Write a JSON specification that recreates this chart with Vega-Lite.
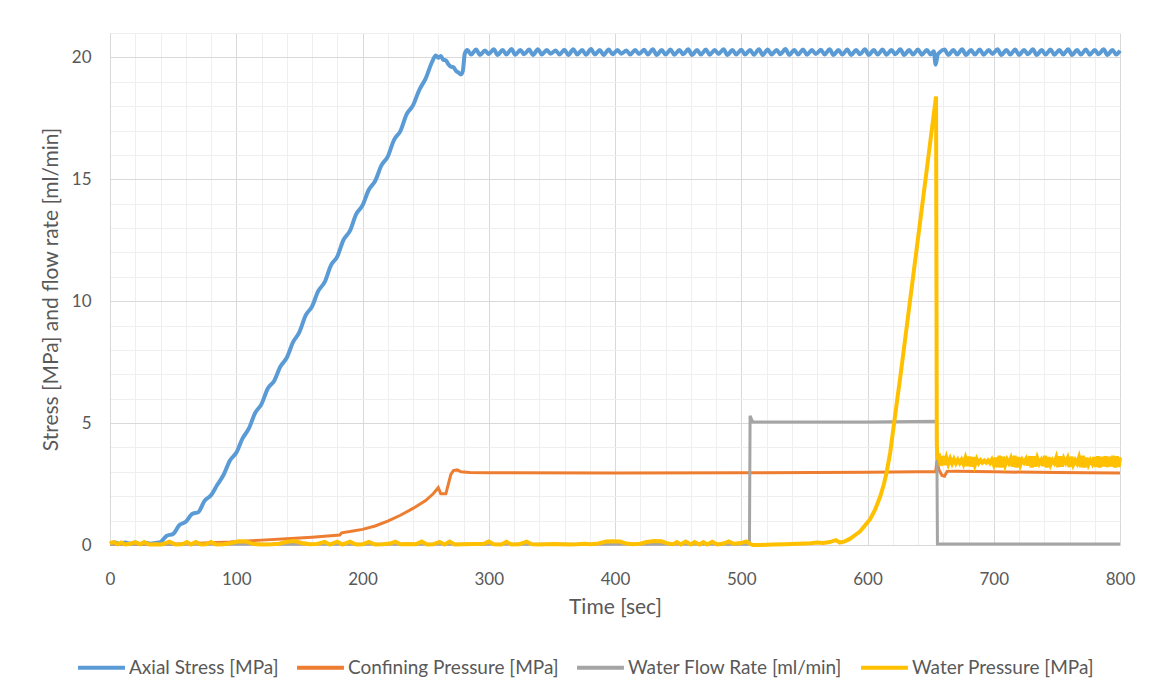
{
  "$schema": "https://vega.github.io/schema/vega-lite/v6.json",
  "width": 1010,
  "height": 512,
  "autosize": {"type": "none"},
  "padding": {"left": 110, "top": 33, "right": 34, "bottom": 153},
  "background": "white",
  "config": {
    "font": "Lato",
    "view": {"stroke": null},
    "axis": {
      "labelFont": "Lato",
      "labelFontSize": 17,
      "labelColor": "#595959",
      "titleFont": "Lato",
      "titleFontSize": 21,
      "titleFontWeight": "normal",
      "titleColor": "#595959",
      "ticks": false,
      "domainColor": "#d9d9d9",
      "domainWidth": 1,
      "labelFlush": false,
      "labelOverlap": false,
      "gridWidth": 1
    },
    "legend": {
      "labelFont": "Lato",
      "labelFontSize": 19,
      "labelColor": "#595959",
      "labelLimit": 300,
      "symbolType": "stroke",
      "symbolSize": 2200,
      "symbolStrokeWidth": 4,
      "labelOffset": 2,
      "columnPadding": 10
    }
  },
  "datasets": {
    "axial": [
      {"t":0,"v":0.05},{"t":4,"v":0.1},{"t":8,"v":0.04},{"t":12,"v":0.1},{"t":16,"v":0.05},{"t":20,"v":0.1},{"t":24,"v":0.04},{"t":28,"v":0.09},{"t":32,"v":0.05},{"t":36,"v":0.08},{"t":40,"v":0.12},
      {"t":45,"v":0.38},{"t":50,"v":0.45},{"t":55,"v":0.82},{"t":60,"v":0.95},{"t":65,"v":1.27},{"t":70,"v":1.35},{"t":75,"v":1.82},{"t":80,"v":2.04},{"t":85,"v":2.47},{"t":90,"v":2.88},{"t":95,"v":3.47},{"t":100,"v":3.78},{"t":105,"v":4.37},{"t":110,"v":4.78},{"t":115,"v":5.42},{"t":120,"v":5.78},{"t":125,"v":6.42},{"t":130,"v":6.73},{"t":135,"v":7.32},{"t":140,"v":7.68},{"t":145,"v":8.32},{"t":150,"v":8.73},{"t":155,"v":9.42},{"t":160,"v":9.78},{"t":165,"v":10.42},{"t":170,"v":10.78},{"t":175,"v":11.47},{"t":180,"v":11.83},{"t":185,"v":12.52},{"t":190,"v":12.88},{"t":195,"v":13.57},{"t":200,"v":13.93},{"t":205,"v":14.57},{"t":210,"v":14.93},{"t":215,"v":15.57},{"t":220,"v":15.93},{"t":225,"v":16.62},{"t":230,"v":16.98},{"t":235,"v":17.67},{"t":240,"v":18.03},{"t":245,"v":18.67},{"t":250,"v":19.13},{"t":255,"v":19.8},{"t":258,"v":20.08},{"t":260,"v":19.98},{"t":262,"v":20.06},{"t":264,"v":19.9},{"t":266,"v":19.88},{"t":268,"v":19.72},{"t":270,"v":19.62},{"t":272,"v":19.6},{"t":274,"v":19.45},{"t":276,"v":19.38},{"t":278,"v":19.3},{"t":279.5,"v":19.45},{"t":281,"v":20.15},
      {"t":283,"v":20.3},{"t":286,"v":20.12},{"t":290,"v":20.32},{"t":293,"v":20.1},{"t":297,"v":20.28},{"t":300,"v":20.14},{"t":304,"v":20.33},{"t":307,"v":20.1},{"t":311,"v":20.3},{"t":314,"v":20.12},{"t":318,"v":20.34},{"t":321,"v":20.11},{"t":325,"v":20.3},{"t":328,"v":20.13},{"t":332,"v":20.32},{"t":335,"v":20.1},{"t":339,"v":20.33},{"t":342,"v":20.12},{"t":346,"v":20.3},{"t":349,"v":20.15},{"t":353,"v":20.28},{"t":356,"v":20.12},{"t":360,"v":20.31},{"t":363,"v":20.1},{"t":367,"v":20.33},{"t":370,"v":20.12},{"t":374,"v":20.3},{"t":377,"v":20.11},{"t":381,"v":20.34},{"t":384,"v":20.12},{"t":388,"v":20.3},{"t":391,"v":20.1},{"t":395,"v":20.32},{"t":398,"v":20.13},{"t":402,"v":20.3},{"t":405,"v":20.15},{"t":409,"v":20.28},{"t":412,"v":20.12},{"t":416,"v":20.3},{"t":419,"v":20.14},{"t":423,"v":20.31},{"t":426,"v":20.12},{"t":430,"v":20.33},{"t":433,"v":20.1},{"t":437,"v":20.3},{"t":440,"v":20.12},{"t":444,"v":20.32},{"t":447,"v":20.11},{"t":451,"v":20.3},{"t":454,"v":20.13},{"t":458,"v":20.33},{"t":461,"v":20.1},{"t":465,"v":20.3},{"t":468,"v":20.12},{"t":472,"v":20.32},{"t":475,"v":20.11},{"t":479,"v":20.3},{"t":482,"v":20.14},{"t":486,"v":20.33},{"t":489,"v":20.1},{"t":493,"v":20.3},{"t":496,"v":20.12},{"t":500,"v":20.31},{"t":503,"v":20.12},{"t":507,"v":20.3},{"t":510,"v":20.11},{"t":514,"v":20.33},{"t":517,"v":20.1},{"t":521,"v":20.32},{"t":524,"v":20.12},{"t":528,"v":20.3},{"t":531,"v":20.13},{"t":535,"v":20.34},{"t":538,"v":20.1},{"t":542,"v":20.3},{"t":545,"v":20.12},{"t":549,"v":20.32},{"t":552,"v":20.11},{"t":556,"v":20.3},{"t":559,"v":20.14},{"t":563,"v":20.31},{"t":566,"v":20.12},{"t":570,"v":20.33},{"t":573,"v":20.1},{"t":577,"v":20.3},{"t":580,"v":20.12},{"t":584,"v":20.32},{"t":587,"v":20.1},{"t":591,"v":20.3},{"t":594,"v":20.13},{"t":598,"v":20.33},{"t":601,"v":20.1},{"t":605,"v":20.3},{"t":608,"v":20.12},{"t":612,"v":20.32},{"t":615,"v":20.11},{"t":619,"v":20.3},{"t":622,"v":20.13},{"t":626,"v":20.33},{"t":629,"v":20.1},{"t":633,"v":20.3},{"t":636,"v":20.12},{"t":640,"v":20.32},{"t":643,"v":20.11},{"t":647,"v":20.3},{"t":650,"v":20.12},{"t":652.5,"v":20.25},{"t":654,"v":19.7},{"t":655.5,"v":20.1},{"t":657,"v":20.2},{"t":661,"v":20.32},{"t":664,"v":20.1},{"t":668,"v":20.3},{"t":671,"v":20.12},{"t":675,"v":20.33},{"t":678,"v":20.1},{"t":682,"v":20.3},{"t":685,"v":20.12},{"t":689,"v":20.32},{"t":692,"v":20.11},{"t":696,"v":20.3},{"t":699,"v":20.14},{"t":703,"v":20.33},{"t":706,"v":20.1},{"t":710,"v":20.3},{"t":713,"v":20.12},{"t":717,"v":20.32},{"t":720,"v":20.1},{"t":724,"v":20.3},{"t":727,"v":20.13},{"t":731,"v":20.33},{"t":734,"v":20.1},{"t":738,"v":20.3},{"t":741,"v":20.12},{"t":745,"v":20.32},{"t":748,"v":20.11},{"t":752,"v":20.3},{"t":755,"v":20.12},{"t":759,"v":20.33},{"t":762,"v":20.1},{"t":766,"v":20.3},{"t":769,"v":20.12},{"t":773,"v":20.32},{"t":776,"v":20.11},{"t":780,"v":20.3},{"t":783,"v":20.13},{"t":787,"v":20.33},{"t":790,"v":20.1},{"t":794,"v":20.3},{"t":797,"v":20.12},{"t":800,"v":20.28}
    ],
    "confining": [
      {"t":0,"v":0.02},{"t":50,"v":0.03},{"t":95,"v":0.12},{"t":120,"v":0.2},{"t":140,"v":0.26},{"t":160,"v":0.32},{"t":182,"v":0.41},{"t":183.5,"v":0.5},{"t":190,"v":0.55},{"t":200,"v":0.64},{"t":210,"v":0.78},{"t":220,"v":0.98},{"t":230,"v":1.22},{"t":240,"v":1.5},{"t":250,"v":1.82},{"t":256,"v":2.1},{"t":260,"v":2.35},{"t":262,"v":2.1},{"t":266,"v":2.1},{"t":268,"v":2.5},{"t":270,"v":2.9},{"t":272,"v":3.05},{"t":275,"v":3.08},{"t":278,"v":3.0},{"t":285,"v":2.97},{"t":300,"v":2.96},{"t":400,"v":2.95},{"t":500,"v":2.96},{"t":600,"v":2.98},{"t":640,"v":3.0},{"t":654,"v":3.0},{"t":655,"v":3.45},{"t":656.5,"v":3.1},{"t":659,"v":2.85},{"t":661,"v":2.82},{"t":663,"v":3.02},{"t":670,"v":3.03},{"t":700,"v":3.0},{"t":750,"v":2.97},{"t":800,"v":2.95}
    ],
    "flow": [
      {"t":0,"v":0.03},{"t":506.5,"v":0.03},{"t":507,"v":5.3},{"t":509,"v":5.05},{"t":560,"v":5.05},{"t":600,"v":5.05},{"t":654.8,"v":5.08},{"t":655.4,"v":0.04},{"t":800,"v":0.04}
    ],
    "water": [
      {"t":0,"v":0.08},{"t":3,"v":0.12},{"t":6,"v":0.03},{"t":9,"v":0.1},{"t":12,"v":0.02},{"t":16,"v":0.05},{"t":20,"v":0.12},{"t":24,"v":0.03},{"t":27,"v":0.12},{"t":31,"v":0.02},{"t":36,"v":0.03},{"t":41,"v":0.02},{"t":47,"v":0.14},{"t":52,"v":0.02},{"t":57,"v":0.03},{"t":61,"v":0.12},{"t":64,"v":0.02},{"t":68,"v":0.12},{"t":72,"v":0.02},{"t":76,"v":0.03},{"t":80,"v":0.12},{"t":84,"v":0.02},{"t":90,"v":0.03},{"t":96,"v":0.08},{"t":102,"v":0.15},{"t":108,"v":0.14},{"t":113,"v":0.05},{"t":120,"v":0.02},{"t":128,"v":0.03},{"t":134,"v":0.05},{"t":140,"v":0.13},{"t":146,"v":0.16},{"t":152,"v":0.08},{"t":158,"v":0.03},{"t":164,"v":0.04},{"t":170,"v":0.13},{"t":174,"v":0.02},{"t":180,"v":0.14},{"t":184,"v":0.02},{"t":190,"v":0.14},{"t":195,"v":0.02},{"t":200,"v":0.03},{"t":205,"v":0.13},{"t":210,"v":0.02},{"t":216,"v":0.03},{"t":222,"v":0.06},{"t":226,"v":0.14},{"t":230,"v":0.03},{"t":236,"v":0.04},{"t":242,"v":0.03},{"t":247,"v":0.14},{"t":251,"v":0.02},{"t":256,"v":0.03},{"t":261,"v":0.13},{"t":265,"v":0.02},{"t":269,"v":0.14},{"t":273,"v":0.02},{"t":280,"v":0.03},{"t":288,"v":0.04},{"t":296,"v":0.05},{"t":300,"v":0.14},{"t":304,"v":0.03},{"t":310,"v":0.02},{"t":314,"v":0.13},{"t":318,"v":0.02},{"t":324,"v":0.03},{"t":330,"v":0.14},{"t":334,"v":0.03},{"t":340,"v":0.02},{"t":346,"v":0.03},{"t":352,"v":0.04},{"t":358,"v":0.03},{"t":364,"v":0.02},{"t":370,"v":0.03},{"t":376,"v":0.05},{"t":381,"v":0.03},{"t":387,"v":0.06},{"t":393,"v":0.14},{"t":398,"v":0.15},{"t":404,"v":0.14},{"t":409,"v":0.06},{"t":414,"v":0.03},{"t":420,"v":0.05},{"t":425,"v":0.12},{"t":431,"v":0.16},{"t":437,"v":0.15},{"t":442,"v":0.06},{"t":446,"v":0.03},{"t":449,"v":0.12},{"t":452,"v":0.02},{"t":456,"v":0.14},{"t":460,"v":0.02},{"t":463,"v":0.12},{"t":467,"v":0.02},{"t":470,"v":0.12},{"t":473,"v":0.02},{"t":477,"v":0.13},{"t":481,"v":0.02},{"t":486,"v":0.06},{"t":490,"v":0.15},{"t":494,"v":0.05},{"t":500,"v":0.08},{"t":504,"v":0.15},{"t":507,"v":0.05},{"t":509,"v":0.0},{"t":515,"v":0.0},{"t":525,"v":0.02},{"t":535,"v":0.03},{"t":545,"v":0.05},{"t":555,"v":0.07},{"t":560,"v":0.1},{"t":565,"v":0.08},{"t":570,"v":0.12},{"t":575,"v":0.2},{"t":578,"v":0.1},{"t":582,"v":0.15},{"t":586,"v":0.25},{"t":590,"v":0.4},{"t":594,"v":0.55},{"t":598,"v":0.8},{"t":602,"v":1.05},{"t":606,"v":1.45},{"t":610,"v":1.98},{"t":613,"v":2.5},{"t":615,"v":2.94},{"t":618,"v":3.8},{"t":620,"v":4.58},{"t":623,"v":5.75},{"t":626,"v":6.9},{"t":630,"v":8.52},{"t":635,"v":10.55},{"t":640,"v":12.58},{"t":645,"v":14.6},{"t":650,"v":16.65},{"t":654.3,"v":18.4},{"t":654.9,"v":4.1},{"t":655.5,"v":3.5},
      {"t":656.5,"v":3.75},{"t":658,"v":3.25},{"t":659.5,"v":3.65},{"t":661,"v":3.28},{"t":662.5,"v":3.58},{"t":664,"v":3.32},{"t":665.5,"v":3.54},{"t":667,"v":3.34},{"t":668.5,"v":3.52},{"t":670,"v":3.35},{"t":671.5,"v":3.5},{"t":673,"v":3.36},{"t":674.5,"v":3.5},{"t":676,"v":3.32},{"t":677.5,"v":3.56},{"t":679,"v":3.24},{"t":680.5,"v":3.62},{"t":682,"v":3.22},{"t":683.5,"v":3.6},{"t":685,"v":3.28},{"t":686.5,"v":3.52},{"t":688,"v":3.36},{"t":689.5,"v":3.48},{"t":691,"v":3.38},{"t":692.5,"v":3.46},{"t":694,"v":3.38},{"t":695.5,"v":3.47},{"t":697,"v":3.36},{"t":698.5,"v":3.5},{"t":700,"v":3.3},{"t":701.5,"v":3.58},{"t":703,"v":3.2},{"t":704.5,"v":3.66},{"t":706,"v":3.18},{"t":707.5,"v":3.62},{"t":709,"v":3.28},{"t":710.5,"v":3.5},{"t":712,"v":3.36},{"t":713.5,"v":3.55},{"t":715,"v":3.22},{"t":716.5,"v":3.66},{"t":718,"v":3.18},{"t":719.5,"v":3.6},{"t":721,"v":3.28},{"t":722.5,"v":3.5},{"t":724,"v":3.38},{"t":725.5,"v":3.52},{"t":727,"v":3.26},{"t":728.5,"v":3.64},{"t":730,"v":3.18},{"t":731.5,"v":3.64},{"t":733,"v":3.22},{"t":734.5,"v":3.56},{"t":736,"v":3.34},{"t":737.5,"v":3.48},{"t":739,"v":3.24},{"t":740.5,"v":3.66},{"t":742,"v":3.18},{"t":743.5,"v":3.6},{"t":745,"v":3.3},{"t":746.5,"v":3.48},{"t":748,"v":3.36},{"t":749.5,"v":3.58},{"t":751,"v":3.2},{"t":752.5,"v":3.64},{"t":754,"v":3.22},{"t":755.5,"v":3.54},{"t":757,"v":3.38},{"t":758.5,"v":3.56},{"t":760,"v":3.2},{"t":761.5,"v":3.62},{"t":763,"v":3.3},{"t":764.5,"v":3.48},{"t":766,"v":3.34},{"t":767.5,"v":3.58},{"t":769,"v":3.2},{"t":770.5,"v":3.66},{"t":772,"v":3.18},{"t":773.5,"v":3.58},{"t":775,"v":3.3},{"t":776.5,"v":3.48},{"t":778,"v":3.34},{"t":779.5,"v":3.6},{"t":781,"v":3.2},{"t":782.5,"v":3.64},{"t":784,"v":3.18},{"t":785.5,"v":3.62},{"t":787,"v":3.22},{"t":788.5,"v":3.64},{"t":790,"v":3.2},{"t":791.5,"v":3.62},{"t":793,"v":3.22},{"t":794.5,"v":3.66},{"t":796,"v":3.18},{"t":797.5,"v":3.64},{"t":799,"v":3.2},{"t":800,"v":3.6}
    ]
  },
  "encoding": {
    "x": {
      "field": "t",
      "type": "quantitative",
      "scale": {"domain": [0, 800], "nice": false, "zero": false},
      "axis": {
        "title": "Time [sec]",
        "values": [0,20,40,60,80,100,120,140,160,180,200,220,240,260,280,300,320,340,360,380,400,420,440,460,480,500,520,540,560,580,600,620,640,660,680,700,720,740,760,780,800],
        "labelExpr": "datum.value % 100 === 0 ? datum.label : ''",
        "gridColor": {"condition": {"test": "datum.value % 100 === 0", "value": "#d9d9d9"}, "value": "#efefef"},
        "labelPadding": 26,
        "titlePadding": 9
      }
    },
    "y": {
      "field": "v",
      "type": "quantitative",
      "scale": {"domain": [0, 21], "nice": false},
      "axis": {
        "title": "Stress [MPa] and flow rate [ml/min]",
        "values": [0,1,2,3,4,5,6,7,8,9,10,11,12,13,14,15,16,17,18,19,20,21],
        "labelExpr": "datum.value % 5 === 0 ? datum.label : ''",
        "gridColor": {"condition": {"test": "datum.value % 5 === 0", "value": "#d9d9d9"}, "value": "#efefef"},
        "labelPadding": 19,
        "titlePadding": 10
      }
    }
  },
  "layer": [
    {
      "data": {"name": "axial"},
      "mark": {"type": "line", "strokeWidth": 4, "interpolate": "monotone"},
      "encoding": {
        "color": {
          "datum": "Axial Stress [MPa]",
          "type": "nominal",
          "scale": {"domain": ["Axial Stress [MPa]", "Confining Pressure [MPa]", "Water Flow Rate [ml/min]", "Water Pressure [MPa]"], "range": ["#5B9BD5", "#ED7D31", "#A5A5A5", "#FFC000"]},
          "legend": {"title": null, "orient": "none", "direction": "horizontal", "columns": 4, "legendX": -34, "legendY": 609}
        }
      }
    },
    {
      "data": {"name": "confining"},
      "mark": {"type": "line", "strokeWidth": 3},
      "encoding": {"color": {"datum": "Confining Pressure [MPa]", "type": "nominal"}}
    },
    {
      "data": {"name": "flow"},
      "mark": {"type": "line", "strokeWidth": 3},
      "encoding": {"color": {"datum": "Water Flow Rate [ml/min]", "type": "nominal"}}
    },
    {
      "data": {"name": "water"},
      "mark": {"type": "line", "strokeWidth": 4},
      "encoding": {"color": {"datum": "Water Pressure [MPa]", "type": "nominal"}}
    }
  ]
}
